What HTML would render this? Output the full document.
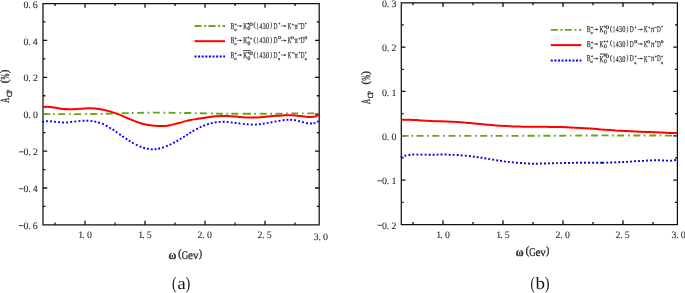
<!DOCTYPE html><html><head><meta charset="utf-8"><title>A_CP vs omega</title><style>html,body{margin:0;padding:0;background:#fff;overflow:hidden;}svg{display:block;will-change:transform;}</style></head><body>
<svg width="685" height="293" viewBox="0 0 685 293" text-rendering="geometricPrecision" font-family='"Liberation Serif", serif'>
<rect width="685" height="293" fill="#fff"/>
<path d="M43,3.5 H319.2 V224.9 H43 Z" fill="none" stroke="#111" stroke-width="1.25"/>
<path d="M43,40.40 h4.2 M319.2,40.40 h-4.2 M43,77.30 h4.2 M319.2,77.30 h-4.2 M43,114.20 h4.2 M319.2,114.20 h-4.2 M43,151.10 h4.2 M319.2,151.10 h-4.2 M43,188.00 h4.2 M319.2,188.00 h-4.2 M43,21.95 h2.4 M319.2,21.95 h-2.4 M43,58.85 h2.4 M319.2,58.85 h-2.4 M43,95.75 h2.4 M319.2,95.75 h-2.4 M43,132.65 h2.4 M319.2,132.65 h-2.4 M43,169.55 h2.4 M319.2,169.55 h-2.4 M43,206.45 h2.4 M319.2,206.45 h-2.4 M85,224.9 v-4.2 M85,3.5 v4.2 M145,224.9 v-4.2 M145,3.5 v4.2 M205,224.9 v-4.2 M205,3.5 v4.2 M265,224.9 v-4.2 M265,3.5 v4.2 M55,224.9 v-2.4 M55,3.5 v2.4 M115,224.9 v-2.4 M115,3.5 v2.4 M175,224.9 v-2.4 M175,3.5 v2.4 M235,224.9 v-2.4 M235,3.5 v2.4 M295,224.9 v-2.4 M295,3.5 v2.4" fill="none" stroke="#111" stroke-width="1.3"/>
<path d="M43.00,114.10 L50.30,114.10 M58.20,114.10 L65.20,114.10 M74.00,114.10 L81.00,114.09 M90.20,113.98 L97.20,113.89 M105.80,113.78 L112.80,113.57 M121.80,113.30 L128.80,113.10 M137.10,112.88 L144.10,112.75 M152.90,112.64 L159.90,112.65 M168.60,112.76 L175.60,112.84 M184.20,112.94 L191.20,113.03 M200.00,113.23 L207.00,113.40 M215.90,113.60 L222.90,113.71 M231.40,113.76 L238.40,113.79 M242.60,113.80 L251.00,113.80 M259.70,113.80 L266.70,113.79 M275.50,113.68 L282.50,113.59 M291.30,113.47 L298.30,113.40 M307.20,113.40 L314.20,113.40 M53.25,114.10 L54.95,114.10 M69.25,114.10 L70.95,114.10 M85.15,114.04 L86.85,114.02 M100.85,113.85 L102.55,113.83 M116.65,113.45 L118.35,113.40 M131.85,113.02 L133.55,112.97 M147.65,112.70 L149.35,112.68 M163.55,112.69 L165.25,112.72 M179.45,112.88 L181.15,112.90 M194.95,113.12 L196.65,113.16 M211.15,113.49 L212.85,113.53 M226.45,113.73 L228.15,113.74 M254.25,113.80 L255.95,113.80 M270.35,113.75 L272.05,113.72 M286.15,113.54 L287.85,113.52 M301.95,113.40 L303.65,113.40 M317.75,113.40 L318.60,113.40" fill="none" stroke="#66a61a" stroke-width="1.9"/>
<path d="M42.06,121.94 L43.94,121.66 M46.05,121.26 L47.95,121.14 M50.05,121.23 L51.95,121.37 M54.16,121.69 L56.04,121.91 M57.95,122.12 L59.85,122.28 M62.05,122.48 L63.95,122.52 M66.15,122.47 L68.05,122.33 M70.26,122.00 L72.14,121.80 M74.36,121.60 L76.24,121.40 M78.45,121.08 L80.35,120.92 M82.65,120.82 L84.55,120.78 M86.45,120.78 L88.35,120.82 M90.56,120.89 L92.44,121.11 M94.37,121.49 L96.23,121.91 M97.99,122.43 L99.81,122.97 M102.12,123.64 L103.88,124.36 M105.77,125.43 L107.43,126.37 M109.28,127.52 L110.92,128.48 M112.60,129.39 L114.20,130.41 M115.73,131.55 L117.27,132.65 M119.22,134.06 L120.78,135.14 M122.31,136.18 L123.89,137.22 M125.71,138.38 L127.29,139.42 M128.80,140.48 L130.40,141.52 M131.97,142.54 L133.63,143.46 M135.84,144.49 L137.56,145.31 M139.62,146.33 L141.38,147.07 M143.19,147.74 L145.01,148.26 M146.96,148.64 L148.84,148.96 M150.85,149.25 L152.75,149.35 M154.66,149.30 L156.54,149.10 M158.27,148.71 L160.13,148.29 M162.10,147.79 L163.90,147.21 M166.02,146.36 L167.78,145.64 M169.64,144.81 L171.36,143.99 M173.15,143.03 L174.85,142.17 M176.57,141.37 L178.23,140.43 M179.89,139.30 L181.51,138.30 M183.20,137.31 L184.80,136.29 M186.31,135.22 L187.89,134.18 M189.39,133.20 L191.01,132.20 M192.57,131.26 L194.23,130.34 M196.26,129.34 L197.94,128.46 M199.64,127.51 L201.36,126.69 M203.21,125.94 L204.99,125.26 M207.09,124.48 L208.91,123.92 M210.88,123.43 L212.72,122.97 M214.76,122.46 L216.64,122.14 M218.65,121.96 L220.55,121.84 M222.75,121.79 L224.65,121.81 M226.65,121.92 L228.55,122.08 M230.76,122.39 L232.64,122.61 M234.66,122.78 L236.54,123.02 M238.46,123.38 L240.34,123.62 M242.95,123.91 L244.85,124.09 M246.75,124.23 L248.65,124.37 M250.85,124.57 L252.75,124.63 M254.95,124.65 L256.85,124.55 M258.96,124.31 L260.84,124.09 M262.76,123.85 L264.64,123.55 M266.66,123.17 L268.54,122.83 M270.57,122.48 L272.43,122.12 M274.57,121.68 L276.43,121.32 M278.56,120.96 L280.44,120.64 M282.66,120.22 L284.54,119.98 M286.45,119.84 L288.35,119.76 M290.15,119.75 L292.05,119.85 M294.16,120.04 L296.04,120.36 M298.18,120.97 L300.02,121.43 M302.08,121.97 L303.92,122.43 M306.06,123.05 L307.94,123.35 M310.05,123.50 L311.95,123.50 M313.58,123.45 L315.42,122.95 M317.14,121.99 L318.86,121.21" fill="none" stroke="#0000ff" stroke-width="1.9"/>
<path d="M43.00,107.20 C43.70,107.13 45.65,106.80 47.20,106.80 C48.75,106.80 50.08,106.88 52.30,107.20 C54.52,107.52 57.60,108.37 60.50,108.70 C63.40,109.03 66.47,109.20 69.70,109.20 C72.93,109.20 76.48,108.87 79.90,108.70 C83.32,108.53 86.77,108.12 90.20,108.20 C93.63,108.28 97.08,108.63 100.50,109.20 C103.92,109.77 107.45,110.65 110.70,111.60 C113.95,112.55 117.60,113.98 120.00,114.90 C122.40,115.82 123.40,116.37 125.10,117.10 C126.80,117.83 128.50,118.58 130.20,119.30 C131.90,120.02 133.58,120.75 135.30,121.40 C137.02,122.05 138.78,122.70 140.50,123.20 C142.22,123.70 143.90,124.05 145.60,124.40 C147.30,124.75 149.00,125.08 150.70,125.30 C152.40,125.52 154.25,125.60 155.80,125.70 C157.35,125.80 158.45,125.87 160.00,125.90 C161.55,125.93 163.40,126.02 165.10,125.90 C166.80,125.78 168.50,125.53 170.20,125.20 C171.90,124.87 173.58,124.33 175.30,123.90 C177.02,123.47 178.78,123.06 180.50,122.60 C182.22,122.14 183.90,121.55 185.60,121.12 C187.30,120.69 189.00,120.33 190.70,120.00 C192.40,119.67 194.25,119.41 195.80,119.16 C197.35,118.91 198.45,118.77 200.00,118.53 C201.55,118.29 203.40,117.97 205.10,117.71 C206.80,117.45 208.50,117.21 210.20,116.98 C211.90,116.75 213.58,116.50 215.30,116.34 C217.02,116.18 218.78,116.06 220.50,116.00 C222.22,115.94 223.90,115.94 225.60,115.97 C227.30,116.00 229.00,116.06 230.70,116.15 C232.40,116.24 234.25,116.36 235.80,116.52 C237.35,116.68 238.13,116.93 240.00,117.10 C241.87,117.27 244.75,117.47 247.00,117.55 C249.25,117.63 251.25,117.63 253.50,117.60 C255.75,117.56 257.63,117.56 260.50,117.34 C263.37,117.12 267.45,116.53 270.70,116.25 C273.95,115.97 277.60,115.81 280.00,115.65 C282.40,115.49 283.40,115.37 285.10,115.30 C286.80,115.23 288.50,115.17 290.20,115.21 C291.90,115.24 293.58,115.36 295.30,115.51 C297.02,115.66 298.78,115.90 300.50,116.10 C302.22,116.30 303.90,116.55 305.60,116.70 C307.30,116.85 309.00,117.05 310.70,117.00 C312.40,116.95 314.43,116.80 315.80,116.40 C317.17,116.00 318.38,114.90 318.90,114.60" fill="none" stroke="#ff0000" stroke-width="2"/>
<path d="M401.3,2.75 H677.4 V224.5 H401.3 Z" fill="none" stroke="#111" stroke-width="1.25"/>
<path d="M401.3,47.10 h4.2 M677.4,47.10 h-4.2 M401.3,91.45 h4.2 M677.4,91.45 h-4.2 M401.3,135.80 h4.2 M677.4,135.80 h-4.2 M401.3,180.15 h4.2 M677.4,180.15 h-4.2 M401.3,24.93 h2.4 M677.4,24.93 h-2.4 M401.3,69.28 h2.4 M677.4,69.28 h-2.4 M401.3,113.62 h2.4 M677.4,113.62 h-2.4 M401.3,157.97 h2.4 M677.4,157.97 h-2.4 M401.3,202.32 h2.4 M677.4,202.32 h-2.4 M443,224.5 v-4.2 M443,2.75 v4.2 M503,224.5 v-4.2 M503,2.75 v4.2 M563,224.5 v-4.2 M563,2.75 v4.2 M623,224.5 v-4.2 M623,2.75 v4.2 M413,224.5 v-2.4 M413,2.75 v2.4 M473,224.5 v-2.4 M473,2.75 v2.4 M533,224.5 v-2.4 M533,2.75 v2.4 M593,224.5 v-2.4 M593,2.75 v2.4 M653,224.5 v-2.4 M653,2.75 v2.4" fill="none" stroke="#111" stroke-width="1.3"/>
<path d="M401.30,135.85 L408.60,135.86 M416.50,135.87 L423.50,135.87 M432.30,135.88 L439.30,135.89 M448.50,135.90 L455.50,135.90 M464.30,135.90 L471.30,135.90 M480.20,135.90 L487.20,135.90 M495.60,135.90 L502.60,135.89 M511.60,135.86 L518.60,135.84 M527.60,135.81 L534.60,135.78 M543.40,135.76 L550.40,135.73 M559.20,135.70 L566.20,135.66 M575.20,135.60 L582.20,135.55 M590.90,135.49 L597.90,135.45 M601.50,135.42 L608.50,135.42 M617.10,135.48 L624.10,135.51 M633.30,135.52 L640.30,135.54 M649.20,135.55 L656.20,135.56 M665.00,135.58 L672.00,135.59 M411.35,135.86 L413.05,135.86 M427.15,135.88 L428.85,135.88 M443.15,135.89 L444.85,135.89 M459.05,135.90 L460.75,135.90 M474.95,135.90 L476.65,135.90 M490.85,135.90 L492.55,135.90 M506.45,135.88 L508.15,135.87 M522.35,135.83 L524.05,135.82 M538.15,135.77 L539.85,135.77 M554.05,135.72 L555.75,135.71 M569.95,135.63 L571.65,135.62 M585.85,135.53 L587.55,135.52 M612.15,135.45 L613.85,135.46 M628.05,135.51 L629.75,135.52 M643.75,135.54 L645.45,135.54 M659.55,135.57 L661.25,135.57" fill="none" stroke="#66a61a" stroke-width="1.9"/>
<path d="M400.70,157.21 L402.50,156.59 M404.38,155.84 L406.22,155.36 M408.46,155.02 L410.34,154.78 M412.35,154.64 L414.25,154.56 M416.45,154.60 L418.35,154.60 M420.55,154.60 L422.45,154.60 M424.65,154.59 L426.55,154.61 M428.75,154.69 L430.65,154.71 M432.65,154.71 L434.55,154.69 M436.65,154.62 L438.55,154.58 M440.55,154.51 L442.45,154.49 M444.65,154.47 L446.55,154.53 M448.75,154.75 L450.65,154.85 M452.65,154.88 L454.55,154.92 M456.75,154.94 L458.65,155.06 M460.75,155.32 L462.65,155.48 M464.85,155.62 L466.75,155.78 M468.96,155.99 L470.84,156.21 M472.86,156.48 L474.74,156.72 M476.66,156.97 L478.54,157.23 M480.56,157.54 L482.44,157.86 M484.36,158.24 L486.24,158.56 M488.26,158.85 L490.14,159.15 M492.26,159.54 L494.14,159.86 M496.26,160.26 L498.14,160.54 M500.06,160.77 L501.94,161.03 M503.96,161.37 L505.84,161.63 M507.85,161.90 L509.75,162.10 M511.85,162.21 L513.75,162.39 M515.95,162.72 L517.85,162.88 M520.05,162.94 L521.95,163.06 M523.95,163.24 L525.85,163.36 M528.05,163.45 L529.95,163.55 M532.05,163.68 L533.95,163.72 M535.85,163.72 L537.75,163.68 M539.95,163.52 L541.85,163.48 M544.05,163.52 L545.95,163.48 M547.95,163.34 L549.85,163.26 M552.05,163.22 L553.95,163.18 M556.15,163.11 L558.05,163.09 M560.05,163.11 L561.95,163.09 M564.05,163.01 L565.95,162.99 M568.05,163.01 L569.95,162.99 M572.05,162.92 L573.95,162.88 M576.05,162.81 L577.95,162.79 M580.05,162.80 L581.95,162.80 M584.05,162.80 L585.95,162.80 M588.15,162.80 L590.05,162.80 M592.15,162.80 L594.05,162.80 M596.25,162.81 L598.15,162.79 M600.25,162.72 L602.15,162.68 M602.15,162.72 L604.05,162.68 M606.25,162.62 L608.15,162.58 M610.25,162.54 L612.15,162.46 M614.25,162.34 L616.15,162.26 M618.35,162.22 L620.25,162.18 M622.15,162.15 L624.05,162.05 M625.95,161.86 L627.85,161.74 M629.95,161.67 L631.85,161.53 M634.05,161.26 L635.95,161.14 M637.95,161.14 L639.85,161.06 M642.05,160.96 L643.95,160.84 M646.05,160.66 L647.95,160.54 M650.15,160.44 L652.05,160.36 M654.15,160.31 L656.05,160.29 M657.95,160.28 L659.85,160.32 M662.05,160.46 L663.95,160.54 M666.05,160.58 L667.95,160.62 M670.15,160.76 L672.05,160.64 M674.16,160.24 L676.04,159.96" fill="none" stroke="#0000cc" stroke-width="1.9"/>
<path d="M401.50,119.70 C402.95,119.70 407.03,119.58 410.20,119.70 C413.37,119.82 417.08,120.18 420.50,120.40 C423.92,120.62 427.45,120.85 430.70,121.00 C433.95,121.15 436.75,121.18 440.00,121.30 C443.25,121.42 446.78,121.55 450.20,121.70 C453.62,121.85 457.08,121.97 460.50,122.20 C463.92,122.43 467.30,122.78 470.70,123.10 C474.10,123.42 477.48,123.78 480.90,124.10 C484.32,124.42 488.02,124.73 491.20,125.00 C494.38,125.27 496.83,125.48 500.00,125.70 C503.17,125.92 506.78,126.15 510.20,126.30 C513.62,126.45 517.08,126.52 520.50,126.60 C523.92,126.68 527.30,126.77 530.70,126.80 C534.10,126.83 537.48,126.78 540.90,126.80 C544.32,126.82 548.02,126.85 551.20,126.90 C554.38,126.95 556.83,127.02 560.00,127.10 C563.17,127.18 566.78,127.27 570.20,127.40 C573.62,127.53 577.08,127.70 580.50,127.90 C583.92,128.10 587.30,128.35 590.70,128.60 C594.10,128.85 597.48,129.15 600.90,129.40 C604.32,129.65 608.02,129.87 611.20,130.10 C614.38,130.33 616.83,130.62 620.00,130.80 C623.17,130.98 626.78,131.05 630.20,131.20 C633.62,131.35 637.08,131.55 640.50,131.70 C643.92,131.85 647.30,131.97 650.70,132.10 C654.10,132.23 657.48,132.35 660.90,132.50 C664.32,132.65 668.52,132.92 671.20,133.00 C673.88,133.08 676.03,133.00 677.00,133.00" fill="none" stroke="#ff0000" stroke-width="2"/>
<g fill="#2a2a2a" stroke="#2a2a2a" stroke-width="0.08">
<text x="23.47" y="7.60" font-size="9.90">0</text><text x="28.21" y="7.60" font-size="9.90">.</text><text x="32.81" y="7.60" font-size="9.90">6</text>
<text x="23.47" y="44.50" font-size="9.90">0</text><text x="28.21" y="44.50" font-size="9.90">.</text><text x="32.86" y="44.50" font-size="9.90">4</text>
<text x="23.47" y="81.40" font-size="9.90">0</text><text x="28.21" y="81.40" font-size="9.90">.</text><text x="32.93" y="81.40" font-size="9.90">2</text>
<text x="23.47" y="118.30" font-size="9.90">0</text><text x="28.21" y="118.30" font-size="9.90">.</text><text x="32.88" y="118.30" font-size="9.90">0</text>
<rect x="19.10" y="151.45" width="4.1" height="0.8"/><text x="23.47" y="155.20" font-size="9.90">0</text><text x="28.21" y="155.20" font-size="9.90">.</text><text x="32.93" y="155.20" font-size="9.90">2</text>
<rect x="19.10" y="188.35" width="4.1" height="0.8"/><text x="23.47" y="192.10" font-size="9.90">0</text><text x="28.21" y="192.10" font-size="9.90">.</text><text x="32.86" y="192.10" font-size="9.90">4</text>
<rect x="19.10" y="225.25" width="4.1" height="0.8"/><text x="23.47" y="229.00" font-size="9.90">0</text><text x="28.21" y="229.00" font-size="9.90">.</text><text x="32.81" y="229.00" font-size="9.90">6</text>
<text x="382.12" y="6.85" font-size="9.90">0</text><text x="386.86" y="6.85" font-size="9.90">.</text><text x="391.48" y="6.85" font-size="9.90">3</text>
<text x="382.12" y="51.20" font-size="9.90">0</text><text x="386.86" y="51.20" font-size="9.90">.</text><text x="391.58" y="51.20" font-size="9.90">2</text>
<text x="382.12" y="95.55" font-size="9.90">0</text><text x="386.86" y="95.55" font-size="9.90">.</text><text x="391.39" y="95.55" font-size="9.90">1</text>
<text x="382.12" y="139.90" font-size="9.90">0</text><text x="386.86" y="139.90" font-size="9.90">.</text><text x="391.52" y="139.90" font-size="9.90">0</text>
<rect x="377.75" y="180.50" width="4.1" height="0.8"/><text x="382.12" y="184.25" font-size="9.90">0</text><text x="386.86" y="184.25" font-size="9.90">.</text><text x="391.39" y="184.25" font-size="9.90">1</text>
<rect x="377.75" y="224.85" width="4.1" height="0.8"/><text x="382.12" y="228.60" font-size="9.90">0</text><text x="386.86" y="228.60" font-size="9.90">.</text><text x="391.58" y="228.60" font-size="9.90">2</text>
<text x="78.19" y="237.60" font-size="9.90">1</text><text x="82.26" y="237.60" font-size="9.90">.</text><text x="86.93" y="237.60" font-size="9.90">0</text>
<text x="138.19" y="237.60" font-size="9.90">1</text><text x="142.26" y="237.60" font-size="9.90">.</text><text x="146.83" y="237.60" font-size="9.90">5</text>
<text x="197.58" y="237.60" font-size="9.90">2</text><text x="202.26" y="237.60" font-size="9.90">.</text><text x="206.93" y="237.60" font-size="9.90">0</text>
<text x="257.58" y="237.60" font-size="9.90">2</text><text x="262.26" y="237.60" font-size="9.90">.</text><text x="266.83" y="237.60" font-size="9.90">5</text>
<text x="313.68" y="239.70" font-size="9.90">3</text><text x="318.46" y="239.70" font-size="9.90">.</text><text x="323.12" y="239.70" font-size="9.90">0</text>
<text x="436.19" y="237.50" font-size="9.90">1</text><text x="440.26" y="237.50" font-size="9.90">.</text><text x="444.92" y="237.50" font-size="9.90">0</text>
<text x="496.19" y="237.50" font-size="9.90">1</text><text x="500.26" y="237.50" font-size="9.90">.</text><text x="504.83" y="237.50" font-size="9.90">5</text>
<text x="555.58" y="237.50" font-size="9.90">2</text><text x="560.26" y="237.50" font-size="9.90">.</text><text x="564.92" y="237.50" font-size="9.90">0</text>
<text x="615.58" y="237.50" font-size="9.90">2</text><text x="620.26" y="237.50" font-size="9.90">.</text><text x="624.83" y="237.50" font-size="9.90">5</text>
<text x="671.38" y="237.50" font-size="9.90">3</text><text x="676.16" y="237.50" font-size="9.90">.</text><text x="680.82" y="237.50" font-size="9.90">0</text>
</g>
<g transform="translate(0,0) rotate(-90)" fill="#2a2a2a" stroke="#2a2a2a" stroke-width="0.3">
<text transform="translate(-102.77,9.20) scale(0.564,1)" font-size="12.57">A</text>
<text transform="translate(-97.07,11.92) scale(0.838,1)" font-size="7.74">C</text>
<text transform="translate(-92.96,12.00) scale(0.698,1)" font-size="7.94">P</text>
<text transform="translate(-83.18,8.01) scale(0.969,1)" font-size="11.25">(</text>
<text transform="translate(-79.44,9.04) scale(0.577,1)" font-size="12.24">%</text>
<text transform="translate(-73.35,8.01) scale(0.969,1)" font-size="11.25">)</text>
</g>
<g transform="translate(361.2,1.3) rotate(-90)" fill="#2a2a2a" stroke="#2a2a2a" stroke-width="0.3">
<text transform="translate(-102.77,9.20) scale(0.564,1)" font-size="12.57">A</text>
<text transform="translate(-97.07,11.92) scale(0.838,1)" font-size="7.74">C</text>
<text transform="translate(-92.96,12.00) scale(0.698,1)" font-size="7.94">P</text>
<text transform="translate(-83.18,8.01) scale(0.969,1)" font-size="11.25">(</text>
<text transform="translate(-79.44,9.04) scale(0.577,1)" font-size="12.24">%</text>
<text transform="translate(-73.35,8.01) scale(0.969,1)" font-size="11.25">)</text>
</g>
<g transform="translate(0,0)" fill="#2a2a2a" stroke="#2a2a2a" stroke-width="0.3"><text transform="translate(168.46,258.88) scale(0.876,1)" font-size="12.28" font-weight="bold">ω</text><text x="178.10" y="257.41" font-size="11.25">(</text><text transform="translate(181.73,258.89) scale(0.759,1)" font-size="11.76">G</text><text transform="translate(188.06,258.89) scale(0.975,1)" font-size="11.64">e</text><text transform="translate(192.90,258.89) scale(0.955,1)" font-size="11.52">v</text><text transform="translate(198.67,257.41) scale(0.900,1)" font-size="11.25">)</text></g>
<g transform="translate(347.4,-3.0)" fill="#2a2a2a" stroke="#2a2a2a" stroke-width="0.3"><text transform="translate(168.46,258.88) scale(0.876,1)" font-size="12.28" font-weight="bold">ω</text><text x="178.10" y="257.41" font-size="11.25">(</text><text transform="translate(181.73,258.89) scale(0.759,1)" font-size="11.76">G</text><text transform="translate(188.06,258.89) scale(0.975,1)" font-size="11.64">e</text><text transform="translate(192.90,258.89) scale(0.955,1)" font-size="11.52">v</text><text transform="translate(198.67,257.41) scale(0.900,1)" font-size="11.25">)</text></g>
<g fill="#151515" stroke="#151515" stroke-width="0.0">
<text transform="translate(172.10,288.77) scale(0.777,1)" font-size="17.54">(</text>
<text transform="translate(177.32,289.03) scale(1.124,1)" font-size="17.12">a</text>
<text transform="translate(185.44,288.77) scale(0.822,1)" font-size="17.54">)</text>
<text transform="translate(530.44,288.97) scale(0.733,1)" font-size="17.54">(</text>
<text transform="translate(535.60,288.93) scale(1.099,1)" font-size="17.34">b</text>
<text transform="translate(544.74,288.97) scale(0.822,1)" font-size="17.54">)</text>
</g>
<path d="M194.5,26 H225.1" stroke="#66a61a" stroke-width="1.8" stroke-dasharray="7 2.6 2 2.4"/>
<path d="M194.5,41.2 H225.1" stroke="#ff0000" stroke-width="2"/>
<path d="M194.5,56.5 H225.1" stroke="#0000ff" stroke-width="2" stroke-dasharray="2 1.6"/>
<g fill="#333" stroke="#333" stroke-width="0.25">
<text transform="translate(230.43,28.77) scale(0.666,1)" font-size="8.67">B</text><text transform="translate(234.48,25.71) scale(0.876,1)" font-size="5.15">+</text><text transform="translate(234.18,30.66) scale(1.344,1)" font-size="4.37">c</text><path d="M237.10,25.90 H240.50" stroke="#555" stroke-width="0.8" fill="none"/><path d="M239.80,24.90 L242.30,25.90 L239.80,26.90 Z" fill="#222" stroke="none"/><text transform="translate(243.14,28.80) scale(0.639,1)" font-size="8.71">K</text><text transform="translate(247.43,25.79) scale(0.670,1)" font-size="5.18">*</text><text transform="translate(249.22,25.65) scale(1.452,1)" font-size="5.04">0</text><text transform="translate(247.58,30.45) scale(1.061,1)" font-size="5.33">0</text><text transform="translate(253.61,27.43) scale(0.896,1)" font-size="7.39">(</text><text transform="translate(256.65,28.80) scale(0.461,1)" font-size="8.63">1</text><text transform="translate(259.49,28.80) scale(0.671,1)" font-size="8.66">4</text><text transform="translate(262.72,28.81) scale(0.662,1)" font-size="8.78">3</text><text transform="translate(266.06,28.81) scale(0.729,1)" font-size="8.74">0</text><text transform="translate(270.22,27.43) scale(0.738,1)" font-size="7.39">)</text><text transform="translate(273.54,28.78) scale(0.635,1)" font-size="8.68">D</text><text transform="translate(278.32,25.07) scale(0.774,1)" font-size="4.72">+</text><path d="M281.10,25.90 H285.00" stroke="#555" stroke-width="0.8" fill="none"/><path d="M284.30,24.90 L286.80,25.90 L284.30,26.90 Z" fill="#222" stroke="none"/><text transform="translate(287.66,28.80) scale(0.555,1)" font-size="8.71">K</text><text transform="translate(291.70,25.63) scale(0.951,1)" font-size="4.29">+</text><text transform="translate(294.61,28.71) scale(0.744,1)" font-size="8.75">π</text><rect x="298.30" y="23.50" width="2.2" height="0.6"/><text transform="translate(300.75,28.78) scale(0.600,1)" font-size="8.68">D</text><text transform="translate(304.82,24.95) scale(0.810,1)" font-size="4.51">+</text>
<text transform="translate(230.43,43.27) scale(0.666,1)" font-size="8.67">B</text><text transform="translate(234.48,40.21) scale(0.876,1)" font-size="5.15">+</text><text transform="translate(234.18,45.16) scale(1.344,1)" font-size="4.37">c</text><path d="M237.10,40.40 H240.50" stroke="#555" stroke-width="0.8" fill="none"/><path d="M239.80,39.40 L242.30,40.40 L239.80,41.40 Z" fill="#222" stroke="none"/><text transform="translate(243.14,43.30) scale(0.639,1)" font-size="8.71">K</text><text transform="translate(247.43,40.29) scale(0.670,1)" font-size="5.18">*</text><text transform="translate(249.69,39.77) scale(0.910,1)" font-size="4.72">+</text><text transform="translate(247.58,44.95) scale(1.061,1)" font-size="5.33">0</text><text transform="translate(253.61,41.93) scale(0.896,1)" font-size="7.39">(</text><text transform="translate(256.65,43.30) scale(0.461,1)" font-size="8.63">1</text><text transform="translate(259.49,43.30) scale(0.671,1)" font-size="8.66">4</text><text transform="translate(262.72,43.31) scale(0.662,1)" font-size="8.78">3</text><text transform="translate(266.06,43.31) scale(0.729,1)" font-size="8.74">0</text><text transform="translate(270.22,41.93) scale(0.738,1)" font-size="7.39">)</text><text transform="translate(273.54,43.28) scale(0.635,1)" font-size="8.68">D</text><text transform="translate(277.97,39.36) scale(1.427,1)" font-size="4.30">0</text><path d="M281.10,40.40 H285.00" stroke="#555" stroke-width="0.8" fill="none"/><path d="M284.30,39.40 L286.80,40.40 L284.30,41.40 Z" fill="#222" stroke="none"/><text transform="translate(287.66,43.30) scale(0.555,1)" font-size="8.71">K</text><text transform="translate(290.99,39.16) scale(1.356,1)" font-size="4.00">0</text><text transform="translate(294.61,43.21) scale(0.744,1)" font-size="8.75">π</text><text transform="translate(298.41,39.53) scale(0.901,1)" font-size="4.29">+</text><text transform="translate(300.75,43.28) scale(0.600,1)" font-size="8.68">D</text><text transform="translate(304.39,39.16) scale(1.356,1)" font-size="4.00">0</text>
<text transform="translate(230.43,57.97) scale(0.666,1)" font-size="8.67">B</text><text transform="translate(234.48,54.91) scale(0.876,1)" font-size="5.15">+</text><text transform="translate(234.18,59.86) scale(1.344,1)" font-size="4.37">c</text><path d="M237.10,55.10 H240.50" stroke="#555" stroke-width="0.8" fill="none"/><path d="M239.80,54.10 L242.30,55.10 L239.80,56.10 Z" fill="#222" stroke="none"/><text transform="translate(243.14,58.00) scale(0.639,1)" font-size="8.71">K</text><text transform="translate(247.43,54.99) scale(0.670,1)" font-size="5.18">*</text><text transform="translate(249.22,54.85) scale(1.452,1)" font-size="5.04">0</text><text transform="translate(247.58,59.65) scale(1.061,1)" font-size="5.33">0</text><text transform="translate(253.61,56.63) scale(0.896,1)" font-size="7.39">(</text><text transform="translate(256.65,58.00) scale(0.461,1)" font-size="8.63">1</text><text transform="translate(259.49,58.00) scale(0.671,1)" font-size="8.66">4</text><text transform="translate(262.72,58.01) scale(0.662,1)" font-size="8.78">3</text><text transform="translate(266.06,58.01) scale(0.729,1)" font-size="8.74">0</text><text transform="translate(270.22,56.63) scale(0.738,1)" font-size="7.39">)</text><text transform="translate(273.54,57.98) scale(0.635,1)" font-size="8.68">D</text><text transform="translate(278.32,54.27) scale(0.774,1)" font-size="4.72">+</text><text transform="translate(278.30,60.46) scale(1.101,1)" font-size="4.37">s</text><path d="M281.10,55.10 H285.00" stroke="#555" stroke-width="0.8" fill="none"/><path d="M284.30,54.10 L286.80,55.10 L284.30,56.10 Z" fill="#222" stroke="none"/><text transform="translate(287.66,58.00) scale(0.555,1)" font-size="8.71">K</text><rect x="292.00" y="52.60" width="2.3" height="0.6"/><text transform="translate(294.61,57.91) scale(0.744,1)" font-size="8.75">π</text><text transform="translate(298.41,54.23) scale(0.901,1)" font-size="4.29">+</text><text transform="translate(300.75,57.98) scale(0.600,1)" font-size="8.68">D</text><text transform="translate(304.82,54.15) scale(0.810,1)" font-size="4.51">+</text><text transform="translate(304.79,60.46) scale(1.174,1)" font-size="4.37">s</text><rect x="243.80" y="50.30" width="6.9" height="0.6"/>
</g>
<path d="M550.8,29.9 H581.4" stroke="#66a61a" stroke-width="1.8" stroke-dasharray="7 2.6 2 2.4"/>
<path d="M550.8,45.1 H581.4" stroke="#ff0000" stroke-width="2"/>
<path d="M550.8,60.4 H581.4" stroke="#0000ff" stroke-width="2" stroke-dasharray="2 1.6"/>
<g fill="#333" stroke="#333" stroke-width="0.25">
<text transform="translate(586.73,32.27) scale(0.666,1)" font-size="8.67">B</text><text transform="translate(590.78,29.21) scale(0.876,1)" font-size="5.15">+</text><text transform="translate(590.48,34.16) scale(1.344,1)" font-size="4.37">c</text><path d="M593.40,29.40 H596.80" stroke="#555" stroke-width="0.8" fill="none"/><path d="M596.10,28.40 L598.60,29.40 L596.10,30.40 Z" fill="#222" stroke="none"/><text transform="translate(599.44,32.30) scale(0.639,1)" font-size="8.71">K</text><text transform="translate(603.73,29.29) scale(0.670,1)" font-size="5.18">*</text><text transform="translate(605.52,29.15) scale(1.452,1)" font-size="5.04">0</text><text transform="translate(603.88,33.95) scale(1.061,1)" font-size="5.33">0</text><text transform="translate(609.91,30.93) scale(0.896,1)" font-size="7.39">(</text><text transform="translate(612.95,32.30) scale(0.461,1)" font-size="8.63">1</text><text transform="translate(615.79,32.30) scale(0.671,1)" font-size="8.66">4</text><text transform="translate(619.02,32.31) scale(0.662,1)" font-size="8.78">3</text><text transform="translate(622.36,32.31) scale(0.729,1)" font-size="8.74">0</text><text transform="translate(626.52,30.93) scale(0.738,1)" font-size="7.39">)</text><text transform="translate(629.84,32.28) scale(0.635,1)" font-size="8.68">D</text><text transform="translate(634.62,28.57) scale(0.774,1)" font-size="4.72">+</text><path d="M637.40,29.40 H641.30" stroke="#555" stroke-width="0.8" fill="none"/><path d="M640.60,28.40 L643.10,29.40 L640.60,30.40 Z" fill="#222" stroke="none"/><text transform="translate(643.96,32.30) scale(0.555,1)" font-size="8.71">K</text><text transform="translate(648.00,29.13) scale(0.951,1)" font-size="4.29">+</text><text transform="translate(650.91,32.21) scale(0.744,1)" font-size="8.75">π</text><rect x="654.60" y="27.00" width="2.2" height="0.6"/><text transform="translate(657.05,32.28) scale(0.600,1)" font-size="8.68">D</text><text transform="translate(661.12,28.45) scale(0.810,1)" font-size="4.51">+</text>
<text transform="translate(586.73,46.77) scale(0.666,1)" font-size="8.67">B</text><text transform="translate(590.78,43.71) scale(0.876,1)" font-size="5.15">+</text><text transform="translate(590.48,48.66) scale(1.344,1)" font-size="4.37">c</text><path d="M593.40,43.90 H596.80" stroke="#555" stroke-width="0.8" fill="none"/><path d="M596.10,42.90 L598.60,43.90 L596.10,44.90 Z" fill="#222" stroke="none"/><text transform="translate(599.44,46.80) scale(0.639,1)" font-size="8.71">K</text><text transform="translate(603.73,43.79) scale(0.670,1)" font-size="5.18">*</text><text transform="translate(605.99,43.27) scale(0.910,1)" font-size="4.72">+</text><text transform="translate(603.88,48.45) scale(1.061,1)" font-size="5.33">0</text><text transform="translate(609.91,45.43) scale(0.896,1)" font-size="7.39">(</text><text transform="translate(612.95,46.80) scale(0.461,1)" font-size="8.63">1</text><text transform="translate(615.79,46.80) scale(0.671,1)" font-size="8.66">4</text><text transform="translate(619.02,46.81) scale(0.662,1)" font-size="8.78">3</text><text transform="translate(622.36,46.81) scale(0.729,1)" font-size="8.74">0</text><text transform="translate(626.52,45.43) scale(0.738,1)" font-size="7.39">)</text><text transform="translate(629.84,46.78) scale(0.635,1)" font-size="8.68">D</text><text transform="translate(634.27,42.86) scale(1.427,1)" font-size="4.30">0</text><path d="M637.40,43.90 H641.30" stroke="#555" stroke-width="0.8" fill="none"/><path d="M640.60,42.90 L643.10,43.90 L640.60,44.90 Z" fill="#222" stroke="none"/><text transform="translate(643.96,46.80) scale(0.555,1)" font-size="8.71">K</text><text transform="translate(647.29,42.66) scale(1.356,1)" font-size="4.00">0</text><text transform="translate(650.91,46.71) scale(0.744,1)" font-size="8.75">π</text><text transform="translate(654.71,43.03) scale(0.901,1)" font-size="4.29">+</text><text transform="translate(657.05,46.78) scale(0.600,1)" font-size="8.68">D</text><text transform="translate(660.69,42.66) scale(1.356,1)" font-size="4.00">0</text>
<text transform="translate(586.73,61.47) scale(0.666,1)" font-size="8.67">B</text><text transform="translate(590.78,58.41) scale(0.876,1)" font-size="5.15">+</text><text transform="translate(590.48,63.36) scale(1.344,1)" font-size="4.37">c</text><path d="M593.40,58.60 H596.80" stroke="#555" stroke-width="0.8" fill="none"/><path d="M596.10,57.60 L598.60,58.60 L596.10,59.60 Z" fill="#222" stroke="none"/><text transform="translate(599.44,61.50) scale(0.639,1)" font-size="8.71">K</text><text transform="translate(603.73,58.49) scale(0.670,1)" font-size="5.18">*</text><text transform="translate(605.52,58.35) scale(1.452,1)" font-size="5.04">0</text><text transform="translate(603.88,63.15) scale(1.061,1)" font-size="5.33">0</text><text transform="translate(609.91,60.13) scale(0.896,1)" font-size="7.39">(</text><text transform="translate(612.95,61.50) scale(0.461,1)" font-size="8.63">1</text><text transform="translate(615.79,61.50) scale(0.671,1)" font-size="8.66">4</text><text transform="translate(619.02,61.51) scale(0.662,1)" font-size="8.78">3</text><text transform="translate(622.36,61.51) scale(0.729,1)" font-size="8.74">0</text><text transform="translate(626.52,60.13) scale(0.738,1)" font-size="7.39">)</text><text transform="translate(629.84,61.48) scale(0.635,1)" font-size="8.68">D</text><text transform="translate(634.62,57.77) scale(0.774,1)" font-size="4.72">+</text><text transform="translate(634.60,63.96) scale(1.101,1)" font-size="4.37">s</text><path d="M637.40,58.60 H641.30" stroke="#555" stroke-width="0.8" fill="none"/><path d="M640.60,57.60 L643.10,58.60 L640.60,59.60 Z" fill="#222" stroke="none"/><text transform="translate(643.96,61.50) scale(0.555,1)" font-size="8.71">K</text><rect x="648.30" y="56.10" width="2.3" height="0.6"/><text transform="translate(650.91,61.41) scale(0.744,1)" font-size="8.75">π</text><text transform="translate(654.71,57.73) scale(0.901,1)" font-size="4.29">+</text><text transform="translate(657.05,61.48) scale(0.600,1)" font-size="8.68">D</text><text transform="translate(661.12,57.65) scale(0.810,1)" font-size="4.51">+</text><text transform="translate(661.09,63.96) scale(1.174,1)" font-size="4.37">s</text><rect x="600.10" y="53.80" width="6.9" height="0.6"/>
</g>
</svg></body></html>
